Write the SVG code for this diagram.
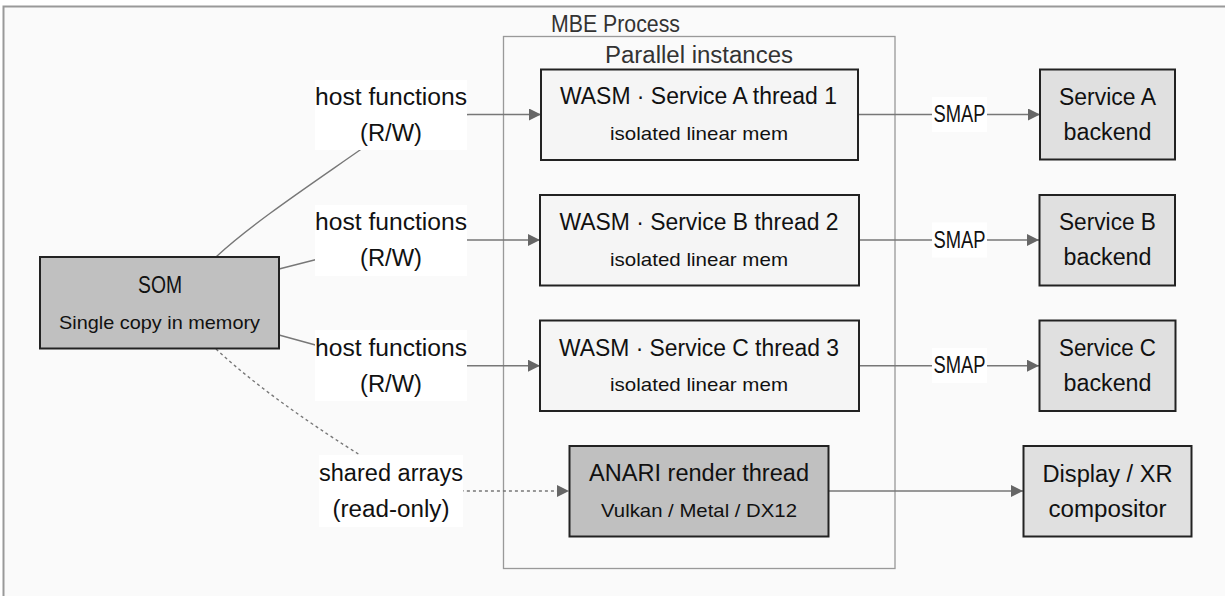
<svg xmlns="http://www.w3.org/2000/svg" width="1225" height="596" viewBox="0 0 1225 596">
<defs>
<marker id="arrow" markerUnits="userSpaceOnUse" markerWidth="12" markerHeight="12" viewBox="0 0 12 12" refX="12" refY="6" orient="auto">
<path d="M0,0 L12,6 L0,12 z" fill="#666"/>
</marker>
</defs>
<style>
text{font-family:"Trebuchet MS","Liberation Sans",Arial,sans-serif;fill:#111;text-anchor:middle;dominant-baseline:central}
.big{font-size:23px}
.small{font-size:19px}
.clabel{font-size:23px;fill:#333}
.node{stroke:#222;stroke-width:2}
.dark{fill:#c0c0c0}
.light{fill:#f5f5f5}
.mid{fill:#e0e0e0}
.edge{fill:none;stroke:#777;stroke-width:1.4}
.dotted{stroke-dasharray:3,3}
.lbg{fill:#ffffff}
</style>
<rect x="0" y="0" width="1225" height="596" fill="#ffffff"/>
<g id="cluster-mbe">
<rect x="3.5" y="6.5" width="1240" height="620" fill="#fafafa" stroke="#999" stroke-width="2"/>
<text class="clabel" x="615.5" y="24" textLength="129" lengthAdjust="spacingAndGlyphs">MBE Process</text>
</g>
<g id="cluster-parallel">
<rect x="503.5" y="36.5" width="391.5" height="532" fill="#fafafa" stroke="#999" stroke-width="1.3"/>
<text class="clabel" x="699" y="55" textLength="188" lengthAdjust="spacingAndGlyphs">Parallel instances</text>
</g>
<g id="connectors">
<path class="edge" d="M216,257 C250,225 310,185 360,150 C385,130 420,114.5 470,114.5 L541,114.5" marker-end="url(#arrow)"/>
<path class="edge" d="M279,269 L330,256 C360,248 380,240 420,240 L540,240" marker-end="url(#arrow)"/>
<path class="edge" d="M279,335 L330,349 C360,358 380,365.7 420,365.7 L540,365.7" marker-end="url(#arrow)"/>
<path class="edge dotted" d="M216,349 C260,390 320,430 360,455 C385,475 420,491 470,491 L569,491" marker-end="url(#arrow)"/>
<path class="edge" d="M858,114.5 L1040,114.5" marker-end="url(#arrow)"/>
<path class="edge" d="M859,240 L1039,240" marker-end="url(#arrow)"/>
<path class="edge" d="M859,365.7 L1039,365.7" marker-end="url(#arrow)"/>
<path class="edge" d="M829,491 L1023,491" marker-end="url(#arrow)"/>
<g id="edge-labels">
<rect class="lbg" x="315" y="80" width="152" height="70"/>
<text class="big" x="391" y="96.5" textLength="152" lengthAdjust="spacingAndGlyphs">host functions</text>
<text class="big" x="391" y="132.5" textLength="62" lengthAdjust="spacingAndGlyphs">(R/W)</text>
<rect class="lbg" x="315" y="205" width="152" height="71"/>
<text class="big" x="391" y="222" textLength="152" lengthAdjust="spacingAndGlyphs">host functions</text>
<text class="big" x="391" y="258" textLength="62" lengthAdjust="spacingAndGlyphs">(R/W)</text>
<rect class="lbg" x="315" y="330" width="152" height="71"/>
<text class="big" x="391" y="347.5" textLength="152" lengthAdjust="spacingAndGlyphs">host functions</text>
<text class="big" x="391" y="383.5" textLength="62" lengthAdjust="spacingAndGlyphs">(R/W)</text>
<rect class="lbg" x="319" y="455" width="144" height="72"/>
<text class="big" x="391" y="473" textLength="144" lengthAdjust="spacingAndGlyphs">shared arrays</text>
<text class="big" x="391" y="509" textLength="117" lengthAdjust="spacingAndGlyphs">(read-only)</text>
<rect class="lbg" x="932" y="97" width="55" height="35"/>
<text class="big" x="959.5" y="114" textLength="52" lengthAdjust="spacingAndGlyphs">SMAP</text>
<rect class="lbg" x="932" y="222.5" width="55" height="35"/>
<text class="big" x="959.5" y="239.5" textLength="52" lengthAdjust="spacingAndGlyphs">SMAP</text>
<rect class="lbg" x="932" y="348" width="55" height="35"/>
<text class="big" x="959.5" y="365" textLength="52" lengthAdjust="spacingAndGlyphs">SMAP</text>
</g>
</g>
<g id="som">
<rect class="node dark" x="40" y="257" width="239" height="91.5"/>
<text class="big" x="160" y="285" textLength="44" lengthAdjust="spacingAndGlyphs">SOM</text>
<text class="small" x="159.5" y="322" textLength="201" lengthAdjust="spacingAndGlyphs">Single copy in memory</text>
</g>
<g id="wasm-a">
<rect class="node light" x="541" y="69.5" width="317" height="90.5"/>
<text class="big" x="698.5" y="96" textLength="277" lengthAdjust="spacingAndGlyphs">WASM · Service A thread 1</text>
<text class="small" x="699" y="133.5" textLength="178" lengthAdjust="spacingAndGlyphs">isolated linear mem</text>
</g>
<g id="wasm-b">
<rect class="node light" x="540" y="195" width="319" height="90.5"/>
<text class="big" x="699" y="222" textLength="279" lengthAdjust="spacingAndGlyphs">WASM · Service B thread 2</text>
<text class="small" x="699" y="259" textLength="178" lengthAdjust="spacingAndGlyphs">isolated linear mem</text>
</g>
<g id="wasm-c">
<rect class="node light" x="540" y="320.5" width="319" height="90.5"/>
<text class="big" x="699" y="347.5" textLength="280" lengthAdjust="spacingAndGlyphs">WASM · Service C thread 3</text>
<text class="small" x="699" y="384.5" textLength="178" lengthAdjust="spacingAndGlyphs">isolated linear mem</text>
</g>
<g id="anari">
<rect class="node dark" x="569.5" y="446" width="259" height="90.5"/>
<text class="big" x="699" y="473" textLength="220" lengthAdjust="spacingAndGlyphs">ANARI render thread</text>
<text class="small" x="699" y="510" textLength="196" lengthAdjust="spacingAndGlyphs">Vulkan / Metal / DX12</text>
</g>
<g id="service-a">
<rect class="node mid" x="1040" y="69.5" width="135" height="90"/>
<text class="big" x="1107.5" y="96.5" textLength="97" lengthAdjust="spacingAndGlyphs">Service A</text>
<text class="big" x="1107.5" y="131.5" textLength="88" lengthAdjust="spacingAndGlyphs">backend</text>
</g>
<g id="service-b">
<rect class="node mid" x="1039.5" y="195" width="135.5" height="90.5"/>
<text class="big" x="1107.5" y="222" textLength="97" lengthAdjust="spacingAndGlyphs">Service B</text>
<text class="big" x="1107.5" y="257" textLength="88" lengthAdjust="spacingAndGlyphs">backend</text>
</g>
<g id="service-c">
<rect class="node mid" x="1039.5" y="320.5" width="136" height="90.5"/>
<text class="big" x="1107.5" y="347.5" textLength="97" lengthAdjust="spacingAndGlyphs">Service C</text>
<text class="big" x="1107.5" y="382.5" textLength="88" lengthAdjust="spacingAndGlyphs">backend</text>
</g>
<g id="display">
<rect class="node mid" x="1023.5" y="446" width="168" height="90.5"/>
<text class="big" x="1107.5" y="473.5" textLength="130" lengthAdjust="spacingAndGlyphs">Display / XR</text>
<text class="big" x="1107.5" y="508.5" textLength="118" lengthAdjust="spacingAndGlyphs">compositor</text>
</g>
</svg>
